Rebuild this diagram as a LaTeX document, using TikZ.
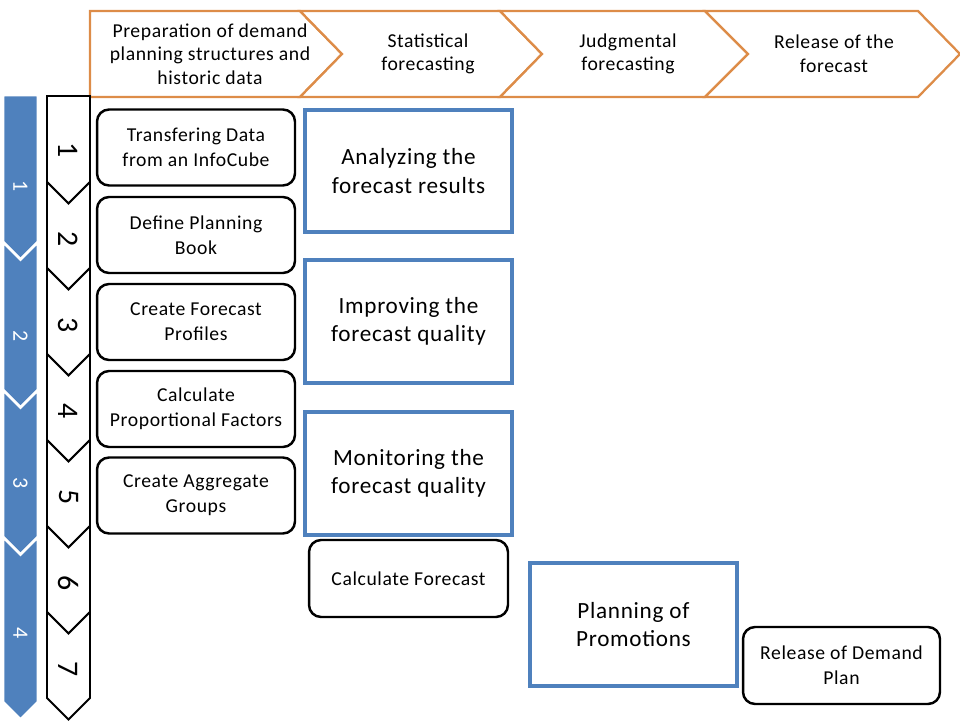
\documentclass[tikz,border=0pt]{standalone}
\usepackage{fontspec}
\setmainfont{Carlito}[LetterSpace=3]
\definecolor{phaseblue}{RGB}{79,129,189}
\definecolor{steporange}{RGB}{221,140,72}
\tikzset{
  phase/.style={draw=steporange,line width=1.3pt,fill=white,line join=miter},
  phasetext/.style={align=center,font=\fontsize{11.2}{13.4}\selectfont},
  taskbox/.style={draw,rounded corners=0.24cm,line width=1.4pt,minimum width=3.96cm,
    minimum height=1.52cm,align=center,font=\fontsize{11.2}{14.2}\selectfont},
  focusbox/.style={draw=phaseblue,line width=2pt,minimum width=4.14cm,
    minimum height=2.44cm,align=center,font=\fontsize{13.2}{16}\selectfont},
  bluestep/.style={fill=phaseblue,draw=white,line width=1.5pt},
  whitestep/.style={fill=white,draw=black,line width=1.1pt},
  stepnum/.style={rotate=-90,font=\fontsize{17}{17}\selectfont},
  phasenum/.style={rotate=-90,text=white,font=\fontsize{12.5}{12.5}\selectfont}
}
\begin{document}
\begin{tikzpicture}[x=0.02cm,y=-0.02cm]
  \useasboundingbox (0,0) rectangle (960,720);
  % phases on top
  \draw[phase] (90,11) -- (300,11) -- (342,54) -- (300,97) -- (90,97) -- cycle;
  \draw[phase] (300,11) -- (500,11) -- (542,54) -- (500,97) -- (300,97) -- (342,54) -- cycle;
  \draw[phase] (500,11) -- (705,11) -- (748,54) -- (705,97) -- (500,97) -- (542,54) -- cycle;
  \draw[phase] (705,11) -- (918,11) -- (960,54) -- (918,97) -- (705,97) -- (748,54) -- cycle;
  \node[phasetext] (prep) at (210,54) {Preparation of demand\\planning structures and\\historic data};
  \node[phasetext] (stat) at (428,54) {Statistical\\forecasting};
  \node[phasetext] (judg) at (628,54) {Judgmental\\forecasting};
  \node[phasetext] (rel) at (834,54) {Release of the\\forecast};
  % blue chevrons
  \draw[bluestep] (3,95) -- (38,95) -- (38,242) -- (20.5,259.5) -- (3,242) -- cycle;
  \draw[bluestep] (3,242) -- (20.5,259.5) -- (38,242) -- (38,390) -- (20.5,407.5) -- (3,390) -- cycle;
  \draw[bluestep] (3,390) -- (20.5,407.5) -- (38,390) -- (38,537) -- (20.5,554.5) -- (3,537) -- cycle;
  \draw[bluestep] (3,537) -- (20.5,554.5) -- (38,537) -- (38,702) -- (20.5,719.5) -- (3,702) -- cycle;
  \node[phasenum] (ph1) at (20.5,186) {1};
  \node[phasenum] (ph2) at (20.5,336) {2};
  \node[phasenum] (ph3) at (20.5,483) {3};
  \node[phasenum] (ph4) at (20.5,633) {4};
  % numbered steps
  \draw[whitestep] (47,96) -- (90,96) -- (90,182) -- (68.5,203.5) -- (47,182) -- cycle;
  \node[stepnum] (st1) at (68.5,150) {1};
  \foreach \k in {2,...,7}{
    \pgfmathsetmacro\s{96+86*(\k-1)}
    \pgfmathsetmacro\b{\s+86}
    \draw[whitestep] (47,\s) -- (68.5,\s+21.5) -- (90,\s) -- (90,\b)
      -- (68.5,\b+21.5) -- (47,\b) -- cycle;
    \node[stepnum] (st\k) at (68.5,\s+57) {\k};
  }
  % tasks
  \node[taskbox] (transfer) at (196,147.5) {Transfering Data\\from an InfoCube};
  \node[taskbox] (planbook) at (196,235) {Define Planning\\Book};
  \node[taskbox] (profiles) at (196,322) {Create Forecast\\Profiles};
  \node[taskbox] (factors) at (196,409) {Calculate\\Proportional Factors};
  \node[taskbox] (aggr) at (196,495.5) {Create Aggregate\\Groups};
  \node[focusbox] (analyze) at (408.5,171) {Analyzing the\\forecast results};
  \node[focusbox,minimum height=2.46cm] (improve) at (408.5,321.5) {Improving the\\forecast quality};
  \node[focusbox,minimum height=2.46cm] (monitor) at (408.5,473.5) {Monitoring the\\forecast quality};
  \node[taskbox,minimum width=3.98cm,minimum height=1.54cm] (calc) at (408.5,578.5) {Calculate Forecast};
  \node[focusbox,minimum height=2.46cm] (promo) at (633.5,624.5) {Planning of\\Promotions};
  \node[taskbox,minimum width=3.94cm,minimum height=1.54cm] (release) at (841.5,665.5) {Release of Demand\\Plan};
\end{tikzpicture}
\end{document}
